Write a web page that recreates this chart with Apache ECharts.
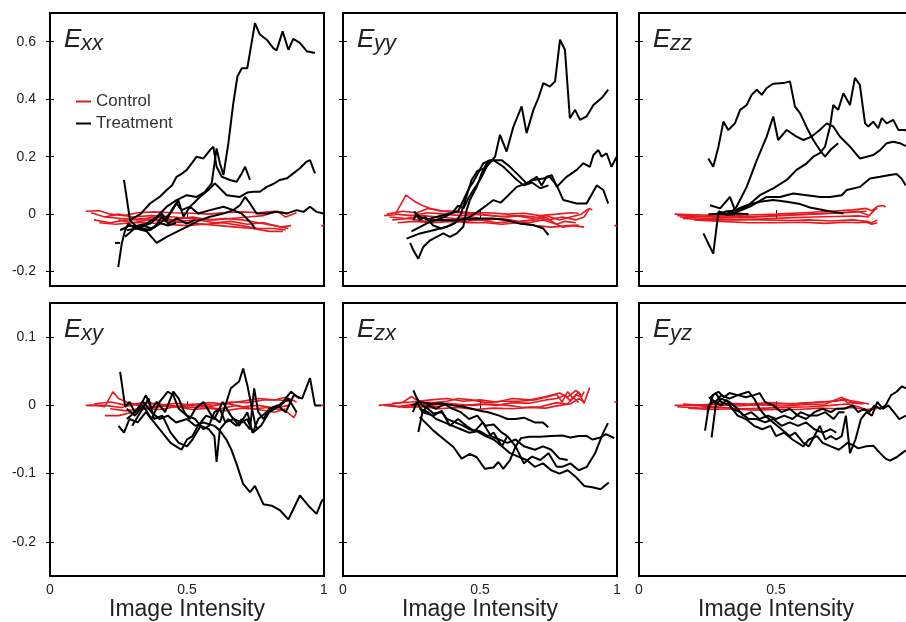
<!DOCTYPE html>
<html>
<head>
<meta charset="utf-8">
<script src="https://cdn.jsdelivr.net/npm/echarts@6/dist/echarts.min.js"></script>
<style>
html, body { margin: 0; padding: 0; background: #fff; overflow: hidden; }
#chart { width: 920px; height: 622px; }
</style>
</head>
<body>
<div id="chart"></div>
<script>
const xTicks = [0, 0.5, 1]
const topTicks = [-0.2, 0, 0.2, 0.4, 0.6]
const bottomTicks = [-0.2, -0.1, 0, 0.1]
const subscripts = ['xx', 'yy', 'zz', 'xy', 'zx', 'yz']

// E_xx
const exxControl = [
	[[0.13,0.01],[0.18,0.012],[0.22,0.0],[0.27,-0.005],[0.32,0.005],[0.38,0.008],[0.45,0.005],[0.52,0.003],[0.58,0.0],[0.63,0.005],[0.7,0.008],[0.76,0.005],[0.82,0.01],[0.87,0.003]],
	[[0.15,0.005],[0.2,-0.01],[0.25,0.0],[0.3,-0.01],[0.37,-0.005],[0.45,-0.01],[0.52,-0.015],[0.6,-0.02],[0.66,-0.015],[0.72,-0.01],[0.78,-0.005],[0.83,0.01],[0.86,-0.01],[0.9,0.005]],
	[[0.16,-0.02],[0.22,-0.03],[0.28,-0.02],[0.34,-0.015],[0.4,-0.02],[0.47,-0.025],[0.54,-0.02],[0.6,-0.03],[0.66,-0.025],[0.72,-0.035],[0.78,-0.03],[0.84,-0.045],[0.88,-0.04]],
	[[0.18,-0.03],[0.24,-0.035],[0.3,-0.03],[0.36,-0.02],[0.42,-0.025],[0.5,-0.03],[0.57,-0.035],[0.63,-0.03],[0.7,-0.04],[0.76,-0.05],[0.82,-0.05],[0.86,-0.055]],
	[[0.2,-0.01],[0.26,-0.015],[0.32,-0.02],[0.38,-0.01],[0.45,-0.02],[0.52,-0.01],[0.58,-0.02],[0.64,-0.015],[0.7,-0.02],[0.76,-0.03],[0.82,-0.04],[0.87,-0.05]],
	[[0.25,-0.02],[0.3,-0.03],[0.36,-0.03],[0.42,-0.035],[0.5,-0.04],[0.56,-0.035],[0.62,-0.04],[0.68,-0.045],[0.74,-0.05],[0.8,-0.06],[0.85,-0.06]],
	[[0.99,-0.04],[1.0,-0.04]]
]
const exxTreatment = [
	[[0.3,-0.044],[0.353,-0.033],[0.389,-0.01],[0.426,0.026],[0.462,0.049],[0.499,0.066],[0.535,0.06],[0.566,0.078],[0.59,0.107],[0.608,0.229],[0.62,0.177],[0.633,0.136],[0.651,0.247],[0.669,0.386],[0.684,0.479],[0.7,0.508],[0.72,0.508],[0.748,0.665],[0.766,0.625],[0.791,0.607],[0.815,0.578],[0.827,0.57],[0.849,0.636],[0.87,0.572],[0.888,0.61],[0.912,0.596],[0.937,0.567],[0.967,0.561]],
	[[0.291,-0.021],[0.33,0.0],[0.365,0.037],[0.4,0.06],[0.426,0.084],[0.445,0.1],[0.462,0.13],[0.48,0.14],[0.499,0.154],[0.52,0.18],[0.535,0.2],[0.56,0.194],[0.584,0.223],[0.596,0.235],[0.608,0.165],[0.627,0.13],[0.657,0.119],[0.681,0.113],[0.7,0.142],[0.712,0.165],[0.73,0.119]],
	[[0.274,-0.079],[0.316,-0.044],[0.365,-0.056],[0.401,-0.033],[0.438,0.002],[0.462,0.037],[0.48,0.014],[0.511,0.026],[0.547,0.06],[0.578,0.084],[0.602,0.107],[0.645,0.066],[0.693,0.06],[0.72,0.075],[0.742,0.078],[0.766,0.078],[0.791,0.095],[0.815,0.105],[0.839,0.119],[0.865,0.125],[0.888,0.142],[0.912,0.16],[0.937,0.183],[0.949,0.188],[0.967,0.142]],
	[[0.28,-0.056],[0.316,-0.05],[0.353,-0.06],[0.389,-0.1],[0.426,-0.079],[0.462,-0.062],[0.499,-0.044],[0.547,-0.021],[0.584,-0.009],[0.633,0.002],[0.669,0.014],[0.693,0.031],[0.712,0.06],[0.73,0.037],[0.754,0.002],[0.791,0.002],[0.827,0.008],[0.864,0.002],[0.9,0.014],[0.925,0.008],[0.949,0.026],[0.973,0.008],[0.998,0.002]],
	[[0.256,-0.056],[0.29,-0.04],[0.328,-0.045],[0.365,-0.033],[0.408,0.002],[0.426,-0.021],[0.444,0.014],[0.468,0.049],[0.487,-0.009],[0.511,0.026],[0.541,0.002],[0.584,0.014],[0.633,0.026],[0.669,0.014],[0.699,0.002],[0.718,-0.015],[0.736,-0.033],[0.748,-0.05]],
	[[0.27,0.119],[0.292,-0.021],[0.316,-0.044],[0.353,-0.056],[0.383,-0.044],[0.408,-0.009],[0.432,-0.033],[0.462,-0.015],[0.499,-0.033],[0.53,-0.02]],
	[[0.249,-0.184],[0.262,-0.102],[0.274,-0.056],[0.286,-0.033],[0.31,-0.05],[0.34,-0.04],[0.37,-0.05],[0.4,-0.03],[0.43,-0.04],[0.46,-0.03]],
	[[0.237,-0.1],[0.256,-0.1]]
]

// E_yy
const eyyControl = [
	[[0.15,-0.005],[0.19,-0.002],[0.23,0.066],[0.26,0.045],[0.29,0.03],[0.32,0.02],[0.36,0.012],[0.41,0.01],[0.47,0.005],[0.53,0.005],[0.6,0.0],[0.66,0.003],[0.72,-0.005],[0.78,0.0],[0.83,0.005],[0.86,0.003]],
	[[0.16,0.0],[0.22,0.01],[0.27,0.005],[0.31,0.02],[0.36,0.01],[0.42,0.005],[0.48,0.0],[0.54,-0.005],[0.6,-0.01],[0.65,-0.005],[0.7,-0.01],[0.75,-0.02],[0.8,-0.01],[0.85,-0.02],[0.88,-0.01],[0.9,0.02],[0.91,0.015]],
	[[0.17,-0.01],[0.23,-0.015],[0.29,-0.005],[0.35,-0.01],[0.41,-0.015],[0.47,-0.01],[0.53,-0.02],[0.58,-0.015],[0.64,-0.025],[0.7,-0.02],[0.74,-0.01],[0.77,-0.03],[0.8,-0.045],[0.84,-0.04],[0.88,-0.045]],
	[[0.18,-0.02],[0.24,-0.015],[0.3,-0.025],[0.37,-0.02],[0.44,-0.025],[0.5,-0.02],[0.56,-0.03],[0.62,-0.025],[0.68,-0.03],[0.73,-0.02],[0.78,-0.035],[0.81,-0.025],[0.85,-0.03]],
	[[0.19,0.0],[0.25,-0.005],[0.31,0.005],[0.37,0.0],[0.43,-0.005],[0.5,0.0],[0.57,-0.008],[0.63,-0.005],[0.69,-0.015],[0.74,-0.005],[0.79,-0.02],[0.83,-0.01],[0.87,0.0],[0.89,0.015],[0.9,0.02]],
	[[0.2,-0.03],[0.26,-0.025],[0.33,-0.03],[0.4,-0.025],[0.46,-0.03],[0.52,-0.03],[0.58,-0.035],[0.64,-0.03],[0.7,-0.04],[0.76,-0.045],[0.82,-0.04],[0.86,-0.038]],
	[[0.99,-0.04],[1.0,-0.04]]
]
const eyyTreatment = [
	[[0.25,-0.06],[0.28,-0.045],[0.31,-0.03],[0.34,-0.02],[0.37,-0.01],[0.4,0.005],[0.42,0.03],[0.44,0.02],[0.46,0.06],[0.48,0.09],[0.5,0.119],[0.524,0.165],[0.555,0.2],[0.573,0.276],[0.597,0.218],[0.622,0.305],[0.652,0.375],[0.67,0.282],[0.695,0.363],[0.713,0.404],[0.731,0.456],[0.755,0.444],[0.774,0.462],[0.792,0.607],[0.81,0.572],[0.828,0.334],[0.847,0.363],[0.865,0.328],[0.889,0.34],[0.914,0.38],[0.944,0.404],[0.968,0.433]],
	[[0.3,-0.02],[0.34,-0.01],[0.38,0.0],[0.42,0.01],[0.44,0.05],[0.46,0.09],[0.476,0.113],[0.512,0.177],[0.536,0.188],[0.579,0.188],[0.609,0.165],[0.634,0.142],[0.67,0.107],[0.695,0.119],[0.731,0.124],[0.755,0.13],[0.78,0.1],[0.804,0.049],[0.853,0.037],[0.889,0.037],[0.926,0.1],[0.95,0.084],[0.968,0.037]],
	[[0.232,-0.085],[0.281,-0.067],[0.33,-0.056],[0.378,-0.044],[0.427,-0.02],[0.463,-0.01],[0.5,0.014],[0.524,0.031],[0.549,0.049],[0.575,0.04],[0.597,0.06],[0.634,0.095],[0.67,0.107],[0.707,0.13],[0.725,0.1],[0.743,0.13],[0.762,0.136],[0.78,0.095],[0.816,0.13],[0.853,0.154],[0.877,0.177],[0.901,0.165],[0.914,0.206],[0.932,0.223],[0.944,0.2],[0.962,0.212],[0.98,0.165],[0.999,0.2]],
	[[0.245,-0.1],[0.257,-0.126],[0.275,-0.155],[0.293,-0.114],[0.318,-0.091],[0.342,-0.079],[0.366,-0.067],[0.39,-0.079],[0.415,-0.067],[0.439,-0.044],[0.451,0.014],[0.463,0.049],[0.488,0.095],[0.506,0.142],[0.524,0.177],[0.549,0.188],[0.585,0.165],[0.61,0.142],[0.634,0.12],[0.66,0.1],[0.69,0.11],[0.72,0.09],[0.75,0.1]],
	[[0.257,-0.021],[0.269,0.002],[0.28,-0.01],[0.3,-0.015],[0.318,-0.021],[0.36,-0.02],[0.403,-0.021],[0.451,-0.018],[0.5,-0.015],[0.549,-0.015],[0.597,-0.021],[0.646,-0.033],[0.695,-0.038],[0.731,-0.05],[0.75,-0.073]],
	[[0.26,0.01],[0.28,-0.02],[0.3,-0.01],[0.33,-0.04],[0.36,-0.05],[0.39,-0.04],[0.41,-0.03],[0.43,0.0],[0.45,0.06],[0.47,0.12],[0.49,0.15],[0.52,0.16]]
]

// E_zz
const ezzControl = [
	[[0.13,0.0],[0.2,-0.002],[0.3,-0.005],[0.4,-0.003],[0.5,0.0],[0.6,0.005],[0.7,0.01],[0.78,0.015],[0.83,0.02],[0.85,0.012],[0.87,0.027],[0.89,0.03],[0.9,0.025]],
	[[0.14,-0.005],[0.22,-0.008],[0.32,-0.01],[0.42,-0.008],[0.52,-0.004],[0.62,0.0],[0.72,0.004],[0.8,0.01],[0.84,-0.005],[0.86,0.015],[0.87,0.02]],
	[[0.15,-0.01],[0.25,-0.015],[0.35,-0.018],[0.45,-0.02],[0.55,-0.022],[0.62,-0.02],[0.7,-0.024],[0.78,-0.02],[0.83,-0.025],[0.85,-0.03],[0.87,-0.02]],
	[[0.16,-0.015],[0.26,-0.02],[0.36,-0.02],[0.46,-0.016],[0.56,-0.012],[0.64,-0.01],[0.72,-0.008],[0.8,-0.006],[0.84,-0.01]],
	[[0.17,-0.005],[0.27,-0.01],[0.37,-0.012],[0.47,-0.008],[0.57,-0.003],[0.67,0.002],[0.77,0.006],[0.83,0.01]],
	[[0.2,-0.02],[0.3,-0.025],[0.4,-0.03],[0.5,-0.03],[0.6,-0.028],[0.68,-0.032],[0.75,-0.028],[0.8,-0.03],[0.83,-0.028],[0.85,-0.035],[0.87,-0.03]]
]
const ezzTreatment = [
	[[0.253,0.194],[0.271,0.165],[0.29,0.235],[0.308,0.322],[0.326,0.293],[0.35,0.316],[0.369,0.363],[0.393,0.38],[0.411,0.415],[0.43,0.433],[0.448,0.415],[0.466,0.439],[0.49,0.454],[0.527,0.456],[0.551,0.462],[0.569,0.375],[0.588,0.351],[0.613,0.3],[0.636,0.258],[0.66,0.223],[0.679,0.2],[0.7,0.225],[0.727,0.247]],
	[[0.29,0.01],[0.32,0.0],[0.34,0.01],[0.356,0.026],[0.393,0.095],[0.43,0.188],[0.466,0.27],[0.49,0.34],[0.508,0.258],[0.539,0.293],[0.575,0.27],[0.6,0.258],[0.63,0.27],[0.66,0.293],[0.685,0.316],[0.709,0.305],[0.733,0.27],[0.77,0.235],[0.806,0.194],[0.831,0.2],[0.855,0.206],[0.88,0.223],[0.904,0.247],[0.928,0.252],[0.952,0.247],[0.974,0.237]],
	[[0.29,0.0],[0.32,0.01],[0.35,0.012],[0.393,0.026],[0.441,0.066],[0.49,0.09],[0.539,0.119],[0.575,0.154],[0.612,0.177],[0.636,0.2],[0.66,0.212],[0.679,0.235],[0.697,0.305],[0.709,0.38],[0.727,0.363],[0.746,0.421],[0.77,0.38],[0.788,0.474],[0.806,0.45],[0.825,0.316],[0.837,0.305],[0.855,0.322],[0.873,0.299],[0.886,0.334],[0.904,0.316],[0.928,0.328],[0.947,0.293],[0.971,0.293],[0.99,0.28]],
	[[0.3,0.0],[0.35,0.005],[0.405,0.026],[0.466,0.06],[0.515,0.06],[0.563,0.072],[0.612,0.066],[0.661,0.06],[0.697,0.06],[0.74,0.066],[0.758,0.084],[0.807,0.095],[0.843,0.124],[0.88,0.13],[0.916,0.136],[0.94,0.14],[0.958,0.124],[0.974,0.1]],
	[[0.259,0.031],[0.296,0.02],[0.332,0.06],[0.35,0.014],[0.393,0.031],[0.441,0.043],[0.49,0.049],[0.539,0.043],[0.588,0.035],[0.624,0.023],[0.685,0.012],[0.746,0.002]],
	[[0.235,-0.067],[0.271,-0.137],[0.29,0.008],[0.32,-0.003],[0.356,0.002],[0.4,0.0]],
	[[0.253,0.0],[0.3,0.001],[0.35,0.0]]
]

// E_xy
const exyControl = [
	[[0.13,0.0],[0.17,0.0],[0.2,-0.002],[0.23,0.02],[0.25,0.01],[0.28,0.005],[0.32,0.0],[0.36,0.003],[0.42,0.0],[0.48,-0.002],[0.54,0.002],[0.6,0.0],[0.66,0.005],[0.72,0.004],[0.78,0.008],[0.84,0.008],[0.88,0.005]],
	[[0.14,0.0],[0.2,0.0],[0.26,-0.003],[0.32,0.002],[0.38,-0.003],[0.44,0.0],[0.5,-0.003],[0.56,-0.002],[0.62,-0.005],[0.68,0.0],[0.74,-0.005],[0.8,-0.003],[0.86,-0.008],[0.89,-0.018],[0.9,-0.01]],
	[[0.2,-0.015],[0.25,-0.015],[0.3,-0.01],[0.35,-0.005],[0.4,0.0],[0.46,0.003],[0.52,0.0],[0.58,0.004],[0.64,0.002],[0.7,0.006],[0.76,0.01],[0.82,0.008],[0.86,0.012],[0.9,0.005]],
	[[0.16,0.002],[0.22,0.005],[0.28,0.0],[0.34,0.004],[0.4,0.002],[0.46,-0.002],[0.52,0.002],[0.58,-0.002],[0.64,0.003],[0.7,-0.002],[0.76,0.0],[0.82,-0.004],[0.87,0.0]],
	[[0.22,-0.005],[0.28,-0.008],[0.34,-0.004],[0.4,-0.006],[0.46,-0.002],[0.52,-0.006],[0.58,-0.004],[0.64,-0.008],[0.7,-0.004],[0.76,-0.006],[0.82,-0.01],[0.86,-0.005]],
	[[0.99,0.0],[1.0,0.0]]
]
const exyTreatment = [
	[[0.28,-0.02],[0.31,-0.01],[0.34,0.005],[0.37,-0.01],[0.4,-0.02],[0.43,-0.015],[0.46,-0.025],[0.5,-0.02],[0.53,-0.03],[0.56,-0.025],[0.6,-0.03],[0.62,-0.037],[0.645,-0.051],[0.663,-0.066],[0.681,-0.086],[0.705,-0.115],[0.73,-0.127],[0.748,-0.118],[0.779,-0.145],[0.809,-0.147],[0.84,-0.154],[0.87,-0.167],[0.894,-0.147],[0.912,-0.132],[0.943,-0.147],[0.973,-0.159],[0.992,-0.14],[1.0,-0.137]],
	[[0.256,0.049],[0.27,0.01],[0.274,-0.002],[0.29,0.005],[0.31,-0.01],[0.33,0.0],[0.35,0.015],[0.37,-0.005],[0.39,0.005],[0.42,-0.01],[0.45,0.02],[0.47,0.01],[0.49,-0.01],[0.51,-0.02],[0.53,-0.005],[0.56,0.005],[0.59,-0.015],[0.62,-0.025],[0.64,0.0],[0.66,0.025],[0.69,0.035],[0.705,0.054],[0.72,0.03],[0.735,0.0],[0.75,-0.03],[0.76,-0.035]],
	[[0.3,-0.03],[0.33,-0.01],[0.36,0.01],[0.38,-0.02],[0.41,-0.015],[0.44,-0.04],[0.47,-0.055],[0.5,-0.06],[0.52,-0.05],[0.55,-0.03],[0.58,-0.035],[0.6,-0.045],[0.608,-0.083],[0.62,-0.035],[0.65,-0.02],[0.68,-0.03],[0.7,-0.02],[0.73,-0.035],[0.745,0.025],[0.76,-0.01],[0.78,-0.02],[0.8,-0.005],[0.83,0.0],[0.86,-0.01],[0.89,0.015],[0.92,0.01],[0.949,0.04],[0.967,0.0],[0.99,0.0]],
	[[0.25,-0.03],[0.27,-0.04],[0.29,-0.02],[0.32,-0.025],[0.35,-0.01],[0.38,-0.025],[0.41,-0.04],[0.44,-0.055],[0.46,-0.06],[0.48,-0.065],[0.5,-0.05],[0.52,-0.045],[0.54,-0.03],[0.57,-0.015],[0.6,-0.02],[0.63,0.005],[0.66,-0.015],[0.69,-0.03],[0.72,-0.01],[0.74,-0.04],[0.77,-0.03],[0.8,-0.01],[0.84,0.0],[0.87,0.01],[0.9,-0.01]],
	[[0.28,-0.005],[0.31,-0.015],[0.34,0.0],[0.37,-0.02],[0.4,0.005],[0.43,0.02],[0.45,0.015],[0.47,-0.005],[0.5,-0.015],[0.53,-0.02],[0.56,-0.035],[0.58,-0.03],[0.6,-0.01],[0.62,-0.005],[0.64,-0.025],[0.67,-0.02],[0.7,-0.025],[0.72,-0.02],[0.74,-0.04],[0.76,-0.02],[0.79,-0.01],[0.82,-0.005],[0.85,0.005],[0.88,0.02],[0.91,0.01]]
]

// E_zx
const ezxControl = [
	[[0.13,0.0],[0.18,0.002],[0.22,0.005],[0.25,0.013],[0.28,0.005],[0.33,0.004],[0.38,0.006],[0.42,0.01],[0.47,0.008],[0.52,0.004],[0.58,0.006],[0.64,0.006],[0.7,0.008],[0.74,0.012],[0.78,0.016],[0.8,0.005],[0.82,0.02],[0.84,0.01],[0.86,0.02],[0.88,0.003],[0.9,0.026]],
	[[0.15,0.0],[0.2,-0.002],[0.26,0.002],[0.32,0.0],[0.38,0.003],[0.44,0.0],[0.5,0.002],[0.56,0.0],[0.62,0.004],[0.68,0.003],[0.74,0.008],[0.78,0.01],[0.81,0.015],[0.83,0.006],[0.85,0.016],[0.87,0.012],[0.88,0.02]],
	[[0.17,0.0],[0.23,-0.003],[0.29,-0.002],[0.35,-0.005],[0.42,-0.003],[0.48,-0.006],[0.55,-0.004],[0.62,-0.005],[0.68,-0.003],[0.74,-0.004],[0.79,0.0],[0.83,0.002],[0.86,0.01],[0.88,0.005]],
	[[0.18,0.003],[0.25,0.005],[0.32,0.008],[0.38,0.01],[0.44,0.006],[0.5,0.008],[0.56,0.005],[0.62,0.01],[0.68,0.008],[0.74,0.013],[0.79,0.018],[0.82,0.012],[0.85,0.022],[0.87,0.015]],
	[[0.2,-0.002],[0.27,0.0],[0.34,-0.002],[0.4,0.002],[0.47,0.0],[0.54,0.002],[0.6,0.0],[0.66,-0.003],[0.72,-0.002],[0.78,0.004],[0.82,0.002],[0.84,0.012],[0.86,0.004]],
	[[0.99,0.005],[1.0,0.005]]
]
const ezxTreatment = [
	[[0.28,-0.017],[0.33,-0.037],[0.366,-0.049],[0.403,-0.061],[0.433,-0.078],[0.463,-0.071],[0.488,-0.076],[0.518,-0.093],[0.549,-0.091],[0.567,-0.083],[0.585,-0.093],[0.61,-0.08],[0.63,-0.06],[0.65,-0.048],[0.68,-0.046],[0.72,-0.046],[0.76,-0.045],[0.8,-0.044],[0.83,-0.047],[0.86,-0.045],[0.89,-0.045],[0.91,-0.05],[0.94,-0.047],[0.96,-0.042],[0.99,-0.048]],
	[[0.28,-0.005],[0.31,-0.01],[0.34,-0.02],[0.37,-0.025],[0.4,-0.03],[0.43,-0.035],[0.46,-0.04],[0.49,-0.038],[0.52,-0.045],[0.55,-0.05],[0.58,-0.06],[0.61,-0.07],[0.64,-0.075],[0.67,-0.08],[0.7,-0.09],[0.73,-0.085],[0.76,-0.095],[0.79,-0.1],[0.82,-0.095],[0.85,-0.105],[0.88,-0.118],[0.91,-0.12],[0.94,-0.123],[0.97,-0.113]],
	[[0.257,0.022],[0.27,0.01],[0.29,0.0],[0.31,-0.005],[0.33,-0.012],[0.36,-0.01],[0.38,-0.02],[0.41,-0.025],[0.44,-0.03],[0.46,-0.035],[0.5,-0.038],[0.53,-0.045],[0.55,-0.04],[0.58,-0.06],[0.6,-0.045],[0.63,-0.06],[0.66,-0.085],[0.69,-0.075],[0.72,-0.08],[0.75,-0.07],[0.78,-0.09],[0.8,-0.09],[0.83,-0.085],[0.86,-0.095],[0.89,-0.09],[0.92,-0.07],[0.95,-0.04],[0.967,-0.026]],
	[[0.25,0.0],[0.28,0.005],[0.32,0.002],[0.36,0.003],[0.4,0.0],[0.44,-0.002],[0.47,-0.005],[0.5,-0.008],[0.53,-0.01],[0.57,-0.015],[0.6,-0.02],[0.63,-0.02],[0.66,-0.018],[0.7,-0.025],[0.73,-0.025],[0.749,-0.032]],
	[[0.255,-0.01],[0.27,0.005],[0.29,-0.01],[0.33,-0.015],[0.36,-0.008],[0.39,-0.03],[0.42,-0.02],[0.45,-0.03],[0.48,-0.038],[0.51,-0.025],[0.54,-0.045],[0.57,-0.05],[0.6,-0.055],[0.63,-0.05],[0.66,-0.06],[0.7,-0.065],[0.73,-0.06],[0.76,-0.065],[0.79,-0.078],[0.82,-0.08]],
	[[0.275,-0.039],[0.29,-0.01],[0.31,0.0],[0.34,-0.005],[0.37,0.002],[0.4,-0.005],[0.43,-0.01],[0.46,-0.02],[0.49,-0.015],[0.52,-0.03],[0.55,-0.028],[0.58,-0.04],[0.6,-0.045]]
]

// E_yz
const eyzControl = [
	[[0.13,0.0],[0.2,0.0],[0.27,-0.002],[0.34,0.002],[0.42,0.0],[0.5,0.002],[0.58,0.003],[0.66,0.005],[0.72,0.006],[0.75,0.01],[0.78,0.004],[0.82,0.002]],
	[[0.14,-0.002],[0.22,-0.004],[0.3,-0.003],[0.38,-0.005],[0.46,-0.004],[0.54,-0.003],[0.62,-0.002],[0.7,0.0],[0.76,0.002],[0.8,-0.002],[0.84,-0.008],[0.86,-0.005]],
	[[0.16,0.002],[0.24,0.0],[0.32,0.003],[0.4,0.002],[0.48,0.004],[0.56,0.002],[0.64,0.004],[0.7,0.006],[0.76,0.008],[0.8,0.005],[0.84,0.002]],
	[[0.18,-0.004],[0.26,-0.006],[0.34,-0.005],[0.42,-0.007],[0.5,-0.006],[0.58,-0.006],[0.66,-0.004],[0.72,-0.005],[0.78,-0.003],[0.83,-0.006],[0.87,-0.004]],
	[[0.2,0.0],[0.28,0.002],[0.36,-0.001],[0.44,0.001],[0.52,-0.001],[0.6,0.001],[0.68,0.002],[0.74,0.012],[0.76,0.004],[0.8,0.003]]
]
const eyzTreatment = [
	[[0.255,0.01],[0.28,0.018],[0.3,0.005],[0.33,0.0],[0.36,-0.015],[0.39,-0.02],[0.42,-0.03],[0.45,-0.035],[0.48,-0.03],[0.5,-0.045],[0.53,-0.04],[0.56,-0.05],[0.6,-0.06],[0.62,-0.05],[0.65,-0.045],[0.67,-0.055],[0.7,-0.06],[0.73,-0.065],[0.76,-0.055],[0.78,-0.058],[0.8,-0.063],[0.83,-0.06],[0.855,-0.059],[0.88,-0.07],[0.9,-0.078],[0.916,-0.081],[0.94,-0.076],[0.96,-0.07],[0.974,-0.066]],
	[[0.25,-0.01],[0.27,0.015],[0.29,0.02],[0.31,0.012],[0.33,0.018],[0.36,0.015],[0.4,0.02],[0.42,0.01],[0.44,-0.005],[0.46,-0.015],[0.49,-0.025],[0.52,-0.035],[0.55,-0.045],[0.57,-0.04],[0.6,-0.055],[0.62,-0.06],[0.64,-0.045],[0.66,-0.03],[0.68,-0.05],[0.7,-0.045],[0.72,-0.05],[0.74,-0.045],[0.755,-0.015],[0.77,-0.07],[0.79,-0.05],[0.81,-0.02],[0.83,-0.01],[0.85,-0.015],[0.87,0.005],[0.89,-0.005],[0.91,0.0],[0.93,-0.01],[0.95,-0.02],[0.974,-0.015]],
	[[0.26,0.01],[0.28,0.005],[0.3,0.015],[0.33,0.01],[0.36,0.015],[0.39,0.012],[0.42,0.015],[0.44,0.018],[0.46,0.005],[0.49,0.0],[0.52,-0.01],[0.55,-0.005],[0.58,-0.015],[0.61,-0.02],[0.64,-0.01],[0.67,-0.005],[0.7,-0.01],[0.72,-0.005],[0.75,-0.005],[0.78,0.0],[0.8,-0.01],[0.82,-0.005],[0.84,-0.01],[0.86,0.0],[0.88,-0.005],[0.9,0.0],[0.92,0.015],[0.94,0.02],[0.96,0.028],[0.974,0.025]],
	[[0.241,-0.037],[0.255,0.0],[0.27,0.005],[0.3,0.0],[0.32,0.008],[0.34,-0.005],[0.37,-0.01],[0.4,-0.02],[0.43,-0.02],[0.46,-0.025],[0.49,-0.02],[0.52,-0.03],[0.55,-0.025],[0.58,-0.03],[0.61,-0.025],[0.64,-0.035],[0.67,-0.04],[0.7,-0.035],[0.72,-0.04]],
	[[0.265,-0.047],[0.28,0.0],[0.3,0.01],[0.33,0.005],[0.36,-0.005],[0.38,-0.015],[0.41,-0.01],[0.44,-0.02],[0.47,-0.015],[0.5,-0.02],[0.53,-0.015],[0.56,-0.02],[0.59,-0.01],[0.62,-0.015],[0.65,-0.015],[0.68,-0.01],[0.71,-0.02],[0.73,-0.01],[0.75,-0.01]]
]

const panels = [
	{ control: exxControl, treatment: exxTreatment },
	{ control: eyyControl, treatment: eyyTreatment },
	{ control: ezzControl, treatment: ezzTreatment },
	{ control: exyControl, treatment: exyTreatment },
	{ control: ezxControl, treatment: ezxTreatment },
	{ control: eyzControl, treatment: eyzTreatment }
]

const red = '#e5191e'
const black = '#000'
const textColor = '#222'
const font = 'Liberation Sans'
const lefts = [50, 343, 639]
const tops = [13, 303]
const panelW = 274
const panelH = 273

const grids = []
const xAxes = []
const yAxes = []
const series = []
const graphics = []

panels.forEach((panel, i) => {
	const row = i < 3 ? 0 : 1
	const col = i % 3
	const left = lefts[col]
	const top = tops[row]
	const yTicks = row === 0 ? topTicks : bottomTicks

	grids.push({
		left: left, top: top, width: panelW, height: panelH,
		containLabel: false, outerBoundsMode: 'none',
		show: true, borderColor: black, borderWidth: 2, backgroundColor: 'transparent'
	})

	const tick = values => ({ inside: true, length: 4, customValues: values, lineStyle: { color: black, width: 1 } })

	xAxes.push({
		gridIndex: i, type: 'value', min: 0, max: 1, position: 'bottom',
		axisLine: { show: false }, splitLine: { show: false },
		axisTick: tick(xTicks),
		axisLabel: { show: row === 1, customValues: xTicks, margin: 7, color: textColor, fontSize: 14, fontFamily: font },
		name: row === 1 ? 'Image Intensity' : '',
		nameLocation: 'middle', nameGap: 19,
		nameTextStyle: { fontSize: 23, color: textColor, fontFamily: font, verticalAlign: 'top' }
	})
	xAxes.push({
		gridIndex: i, type: 'value', min: 0, max: 1, position: 'top',
		axisLine: { show: false }, splitLine: { show: false },
		axisTick: tick(xTicks), axisLabel: { show: false }
	})
	yAxes.push({
		gridIndex: i, type: 'value', min: -0.25, max: row === 0 ? 0.7 : 0.15, position: 'left',
		axisLine: { show: false }, splitLine: { show: false },
		axisTick: tick(yTicks),
		axisLabel: { show: col === 0, customValues: yTicks, margin: 14, color: textColor, fontSize: 14, fontFamily: font }
	})
	yAxes.push({
		gridIndex: i, type: 'value', min: -0.25, max: row === 0 ? 0.7 : 0.15, position: 'right',
		axisLine: { show: false }, splitLine: { show: false },
		axisTick: tick(yTicks), axisLabel: { show: false }
	})

	panel.control.forEach(line => {
		series.push({
			type: 'line', name: 'Control', xAxisIndex: 2 * i, yAxisIndex: 2 * i,
			data: line, symbol: 'none', color: red, silent: true,
			lineStyle: { color: red, width: 1.6 }
		})
	})
	panel.treatment.forEach(line => {
		series.push({
			type: 'line', name: 'Treatment', xAxisIndex: 2 * i, yAxisIndex: 2 * i,
			data: line, symbol: 'none', color: black, silent: true,
			lineStyle: { color: black, width: 2 }
		})
	})

	graphics.push({
		type: 'text', left: left + 14, top: top + 14,
		style: { text: 'E', font: 'italic 26px "Liberation Sans"', fill: textColor }
	})
	graphics.push({
		type: 'text', left: left + 31, top: top + 20,
		style: { text: subscripts[i], font: 'italic 22px "Liberation Sans"', fill: textColor }
	})
})

const chart = echarts.init(document.getElementById('chart'))
chart.setOption({
	animation: false,
	backgroundColor: '#fff',
	grid: grids,
	xAxis: xAxes,
	yAxis: yAxes,
	legend: {
		data: ['Control', 'Treatment'], orient: 'vertical', left: 71, top: 88,
		icon: 'rect', itemWidth: 15, itemHeight: 2, itemGap: 5, selectedMode: false,
		textStyle: { fontSize: 17, color: '#333', fontFamily: font }
	},
	graphic: graphics,
	series: series
})
</script>
</body>
</html>
